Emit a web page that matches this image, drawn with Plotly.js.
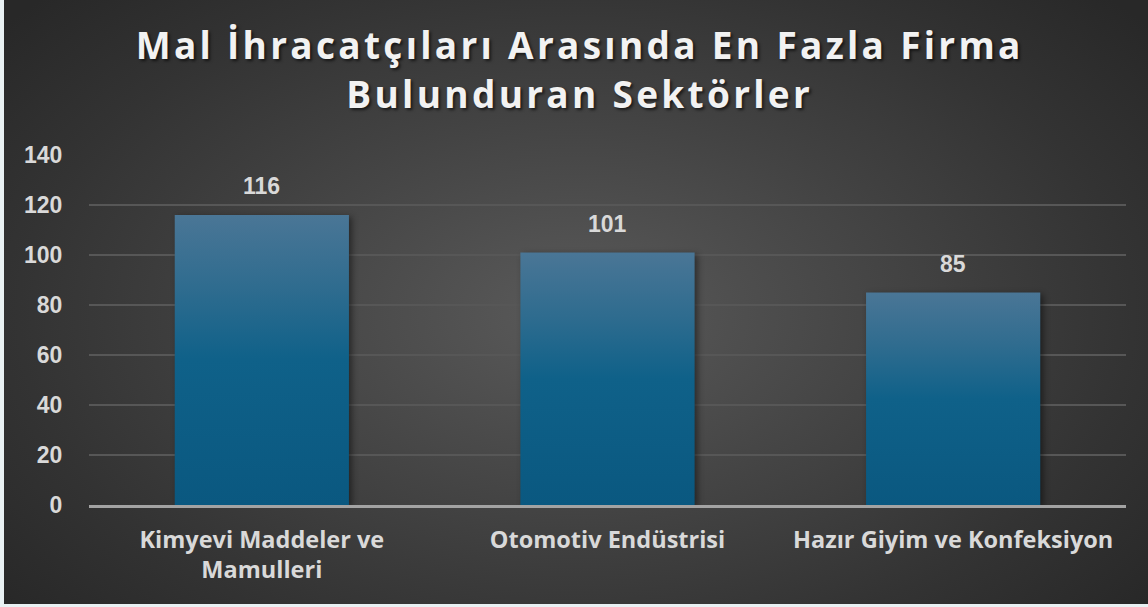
<!DOCTYPE html>
<html>
<head>
<meta charset="utf-8">
<script src="https://cdn.plot.ly/plotly-3.0.1.min.js"></script>
<style>
  html, body { margin:0; padding:0; width:1148px; height:607px; overflow:hidden; background:#e9f1f3; }
  #wrap { position:absolute; left:4px; top:0; width:1144px; height:604px;
    background: radial-gradient(ellipse 65% 75% at 50% 52%, #5a5a5a 0%, #454545 40%, #333333 75%, #282828 100%); }
  #chart { position:absolute; left:0; top:0; width:1148px; height:607px; }
  .gtitle { letter-spacing: 3.3px; }
  .bars .point path { filter: drop-shadow(3px 2px 3px rgba(0,0,0,0.45)); }
</style>
</head>
<body>
<div id="wrap"></div>
<div id="chart"></div>
<script>
const categories = ["Kimyevi Maddeler ve<br>Mamulleri", "Otomotiv Endüstrisi", "Hazır Giyim ve Konfeksiyon"];
const values = [116, 101, 85];
const yTicks = [0, 20, 40, 60, 80, 100, 120, 140];
const titleText = "Mal İhracatçıları Arasında En Fazla Firma<br>Bulunduran Sektörler";

const labelFont = {family: "Liberation Sans, Arial, sans-serif", size: 23, color: "#d9d9d9", weight: 700};

const trace = {
  type: "bar",
  x: categories,
  y: values,
  marker: {color: "#0f6088", line: {width: 0}},
  hoverinfo: "none"
};

const annotations = categories.map((c, i) => ({
  x: c, y: values[i], xref: "x", yref: "y",
  text: String(values[i]), showarrow: false,
  yanchor: "bottom", yshift: 14,
  font: labelFont
}));

const layout = {
  width: 1148, height: 607,
  margin: {l: 89, r: 22, t: 155, b: 102},
  paper_bgcolor: "rgba(0,0,0,0)",
  plot_bgcolor: "rgba(0,0,0,0)",
  bargap: 0.496,
  showlegend: false,
  title: {
    text: titleText,
    x: 0.505, xref: "container", xanchor: "center",
    y: 0.902, yref: "container", yanchor: "middle",
    font: {family: "Open Sans, sans-serif", size: 37, color: "#f2f2f2", weight: 700,
           shadow: "2px 2px 3px rgba(0,0,0,0.6)"}
  },
  xaxis: {
    type: "category",
    showgrid: false, zeroline: false,
    showline: true, linecolor: "#a3a3a3", linewidth: 2.5, layer: "above traces",
    ticks: "outside", ticklen: 12, tickcolor: "rgba(0,0,0,0)",
    tickfont: {family: "Open Sans, sans-serif", size: 23.5, color: "#d9d9d9", weight: 700}
  },
  yaxis: {
    range: [0, 140],
    tickvals: yTicks,
    showgrid: true, gridcolor: "#575757", gridwidth: 1.5,
    zeroline: false, showline: false,
    ticks: "outside", ticklen: 21, tickcolor: "rgba(0,0,0,0)",
    tickfont: labelFont
  },
  annotations: annotations
};

Plotly.newPlot("chart", [trace], layout, {staticPlot: true, displayModeBar: false}).then(gd => {
  const svg = gd.querySelector("svg.main-svg");
  let defs = svg.querySelector("defs");
  const ns = "http://www.w3.org/2000/svg";
  const grad = document.createElementNS(ns, "linearGradient");
  grad.setAttribute("id", "barGrad");
  grad.setAttribute("x1", "0"); grad.setAttribute("y1", "0");
  grad.setAttribute("x2", "0"); grad.setAttribute("y2", "1");
  [["0%", "#4a7696"], ["25%", "#2f6c8f"], ["50%", "#0f6189"], ["100%", "#0a5880"]].forEach(([o, c]) => {
    const s = document.createElementNS(ns, "stop");
    s.setAttribute("offset", o); s.setAttribute("stop-color", c);
    grad.appendChild(s);
  });
  defs.appendChild(grad);
  gd.querySelectorAll(".bars .point path").forEach(p => { p.style.fill = "url(#barGrad)"; });
});
</script>
</body>
</html>
